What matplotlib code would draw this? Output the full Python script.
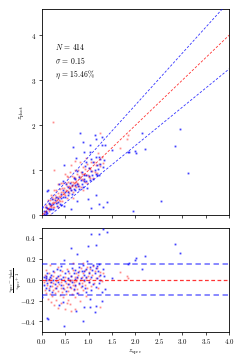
"""
Photo-z vs spec-z comparison: scatter on top, normalised residuals below.
"""
import matplotlib
matplotlib.use("Agg")
import matplotlib.pyplot as plt
import numpy as np

plt.rcParams["font.family"] = "serif"
plt.rcParams["font.serif"] = ["cmr10"]
plt.rcParams["mathtext.fontset"] = "cm"
plt.rcParams["axes.formatter.use_mathtext"] = True
plt.rcParams["font.size"] = 5

# ---- data ------------------------------------------------------------------
# blue sample: spectroscopic z and normalised residual (zs - zp) / (1 + zs)
zspec_blue = [
    0.81, 1.13, 1.29, 1.04, 0.87, 0.74, 1.16, 2.13, 2.94, 2.84,
    2.20, 2.00, 2.02, 1.84, 1.50, 3.13, 2.54, 1.95, 1.40, 1.31,
    1.23, 1.06, 1.16, 0.99, 0.76, 0.63, 0.13, 0.12, 0.47, 0.95,
    0.91, 1.03, 1.24, 0.45, 0.36, 0.66, 1.86, 1.35, 0.01, 0.91,
    0.05, 0.05, 0.08, 0.10, 0.10, 0.10, 0.12, 0.12, 0.15, 0.15,
    0.18, 0.18, 0.20, 0.20, 0.22, 0.25, 0.25, 0.28, 0.30, 0.30,
    0.33, 0.35, 0.35, 0.38, 0.40, 0.40, 0.42, 0.45, 0.45, 0.48,
    0.50, 0.50, 0.52, 0.55, 0.57, 0.57, 0.60, 0.60, 0.62, 0.65,
    0.65, 0.68, 0.68, 0.70, 0.72, 0.72, 0.75, 0.75, 0.78, 0.80,
    0.80, 0.83, 0.85, 0.85, 0.88, 0.90, 0.90, 0.93, 0.95, 0.95,
    0.97, 1.00, 1.00, 1.02, 1.05, 1.05, 1.08, 1.10, 1.10, 1.13,
    1.15, 1.15, 1.17, 1.17, 1.20, 1.22, 1.22, 1.25, 1.28, 1.30,
    1.33,
]
dz_blue = [
    -0.56, -0.31, -0.20, -0.26, -0.40, -0.30, -0.25, 0.10, 0.26, 0.34,
    0.23, 0.19, 0.21, 0.15, 0.02, 0.53, 0.63, 0.63, 0.46, 0.49,
    0.44, 0.44, 0.33, 0.32, 0.25, 0.30, -0.38, -0.37, -0.44, -0.12,
    -0.26, -0.18, 0.00, -0.21, -0.24, -0.52, 0.16, -0.09, -0.17, 0.08,
    0.03, -0.05, 0.04, 0.00, -0.08, 0.02, -0.03, 0.06, -0.10, 0.01,
    -0.06, 0.03, 0.05, -0.02, -0.12, 0.00, 0.08, -0.04, 0.02, -0.08,
    0.10, -0.02, 0.04, 0.09, -0.05, 0.01, 0.13, -0.08, 0.03, 0.19,
    -0.01, 0.06, -0.11, 0.02, -0.04, 0.08, 0.00, -0.07, 0.04, -0.02,
    0.11, 0.06, -0.09, 0.01, -0.05, 0.09, 0.03, -0.13, 0.07, -0.03,
    0.12, 0.02, 0.08, -0.06, 0.14, 0.00, 0.05, -0.08, 0.10, 0.03,
    0.18, 0.06, -0.02, 0.12, 0.03, -0.10, 0.09, 0.14, -0.04, 0.06,
    0.11, -0.07, 0.02, 0.13, 0.08, -0.03, 0.15, 0.05, -0.12, 0.10,
    0.04,
]

# red sample
zspec_red = [
    0.04, 0.06, 0.07, 0.09, 0.10, 0.11, 0.13, 0.14, 0.15, 0.16,
    0.17, 0.18, 0.19, 0.20, 0.21, 0.22, 0.23, 0.24, 0.25, 0.26,
    0.27, 0.28, 0.29, 0.30, 0.31, 0.32, 0.33, 0.34, 0.35, 0.36,
    0.37, 0.38, 0.39, 0.40, 0.41, 0.42, 0.43, 0.44, 0.45, 0.46,
    0.47, 0.48, 0.49, 0.50, 0.51, 0.52, 0.53, 0.54, 0.55, 0.56,
    0.57, 0.58, 0.59, 0.60, 0.61, 0.62, 0.63, 0.64, 0.65, 0.66,
    0.67, 0.68, 0.69, 0.70, 0.71, 0.72, 0.73, 0.74, 0.75, 0.76,
    0.77, 0.78, 0.79, 0.80, 0.81, 0.82, 0.83, 0.84, 0.85, 0.86,
    0.87, 0.88, 0.89, 0.90, 0.92, 0.93, 0.94, 0.96, 0.97, 0.98,
    1.00, 1.01, 1.03, 1.04, 1.06, 1.08, 1.10, 1.12, 1.14, 1.16,
    1.18, 1.20, 1.22, 1.25, 1.28, 1.30, 1.68, 1.81, 1.85, 0.25,
    0.26, 0.62, 0.18, 0.66, 0.35, 1.24, 0.72, 0.53, 0.95, 0.08,
]
dz_red = [
    -0.02, 0.05, -0.10, -0.13, 0.03, -0.05, -0.18, 0.00, -0.08, 0.06,
    -0.14, -0.02, -0.21, 0.02, -0.06, -0.16, 0.04, -0.10, -0.03, -0.24,
    0.07, -0.08, -0.13, -0.01, -0.19, 0.03, -0.06, -0.27, -0.11, 0.01,
    -0.04, -0.15, 0.05, -0.08, -0.22, -0.02, -0.12, 0.08, -0.05, -0.17,
    0.00, -0.09, -0.28, 0.03, -0.14, -0.03, 0.10, -0.07, -0.19, 0.01,
    -0.11, -0.04, 0.06, -0.23, -0.01, -0.08, 0.04, -0.14, 0.00, -0.05,
    0.09, -0.10, -0.02, 0.03, -0.17, -0.06, 0.06, -0.01, -0.09, 0.02,
    -0.13, 0.05, -0.04, 0.08, -0.20, 0.00, -0.07, 0.11, 0.03, -0.03,
    0.16, -0.10, 0.06, -0.01, 0.09, -0.05, 0.02, 0.12, -0.08, 0.04,
    0.07, -0.02, 0.10, 0.01, -0.06, 0.05, 0.13, -0.03, 0.08, 0.02,
    0.11, -0.08, 0.04, 0.07, -0.01, 0.06, 0.07, 0.04, 0.02, -1.45,
    -0.59, -0.30, 0.14, 0.16, 0.12, -0.26, -0.28, -0.22, -0.16, 0.09,
]

N_TOTAL = 414
SIGMA = 0.15
ETA = 15.46
OUTLIER_CUT = 0.15

zs_b = np.asarray(zspec_blue)
dz_b = np.asarray(dz_blue)
zs_r = np.asarray(zspec_red)
dz_r = np.asarray(dz_red)
zp_b = zs_b - dz_b * (1 + zs_b)
zp_r = zs_r - dz_r * (1 + zs_r)

# ---- figure ------------------------------------------------------------------
fig = plt.figure(figsize=(2.4, 3.6), dpi=100)
ax1 = fig.add_axes([0.174, 0.402, 0.781, 0.573])
ax2 = fig.add_axes([0.174, 0.078, 0.781, 0.290])

grid = np.array([0.0, 4.0])
ax1.plot(zs_r, zp_r, "s", color="red", ms=1.3, mew=0, alpha=0.45, zorder=2)
ax1.plot(zs_b, zp_b, "s", color="blue", ms=1.3, mew=0, alpha=0.75, zorder=3)
ax1.plot(grid, grid, color="red", lw=0.6, ls=(0, (3, 2)), alpha=0.8, zorder=4)
ax1.plot(grid, grid + OUTLIER_CUT * (1 + grid), color="blue", lw=0.6, ls=(0, (3, 2)), alpha=0.8, zorder=4)
ax1.plot(grid, grid - OUTLIER_CUT * (1 + grid), color="blue", lw=0.6, ls=(0, (3, 2)), alpha=0.8, zorder=4)
ax1.set_xlim(0, 4)
ax1.set_ylim(0, 4.58)
ax1.set_xticks(np.arange(0, 4.01, 0.5))
ax1.set_xticklabels([])
ax1.set_yticks([0, 1, 2, 3, 4])
ax1.set_ylabel(r"$z_{\rm phot}$", fontsize=5)
ax1.yaxis.set_label_coords(-0.078, 0.5)

ax1.text(0.07, 0.816, rf"$N$ = {N_TOTAL}", transform=ax1.transAxes, fontsize=5.5, va="center")
ax1.text(0.07, 0.748, rf"$\sigma$ = {SIGMA}", transform=ax1.transAxes, fontsize=5.5, va="center")
ax1.text(0.07, 0.680, rf"$\eta$ = {ETA}%", transform=ax1.transAxes, fontsize=5.5, va="center")

ax2.plot(zs_r, dz_r, "s", color="red", ms=1.3, mew=0, alpha=0.45, zorder=2)
ax2.plot(zs_b, dz_b, "s", color="blue", ms=1.3, mew=0, alpha=0.75, zorder=3)
ax2.axhline(0, ls=(0, (3, 2)), color="red", lw=0.9, alpha=0.8, zorder=4)
ax2.axhline(OUTLIER_CUT, ls=(0, (3, 2)), color="blue", lw=1.3, alpha=0.5, zorder=4)
ax2.axhline(-OUTLIER_CUT, ls=(0, (3, 2)), color="blue", lw=1.3, alpha=0.5, zorder=4)
ax2.set_xlim(0, 4)
ax2.set_ylim(-0.5, 0.5)
ax2.set_xticks(np.arange(0, 4.01, 0.5))
ax2.set_yticks([-0.4, -0.2, 0.0, 0.2, 0.4])
ax2.set_xlabel(r"$z_{\rm spec}$", fontsize=5)
ax2.xaxis.set_label_coords(0.5, -0.145)
ax2.set_ylabel(r"$\frac{z_{\rm spec}-z_{\rm phot}}{z_{\rm spec}+1}$", fontsize=5)
ax2.yaxis.set_label_coords(-0.094, 0.5)

for ax in (ax1, ax2):
    ax.tick_params(labelsize=5, width=0.5, length=2, pad=2)
    for s in ax.spines.values():
        s.set_linewidth(0.6)

fig.savefig("out.png", dpi=100)
plt.close(fig)
